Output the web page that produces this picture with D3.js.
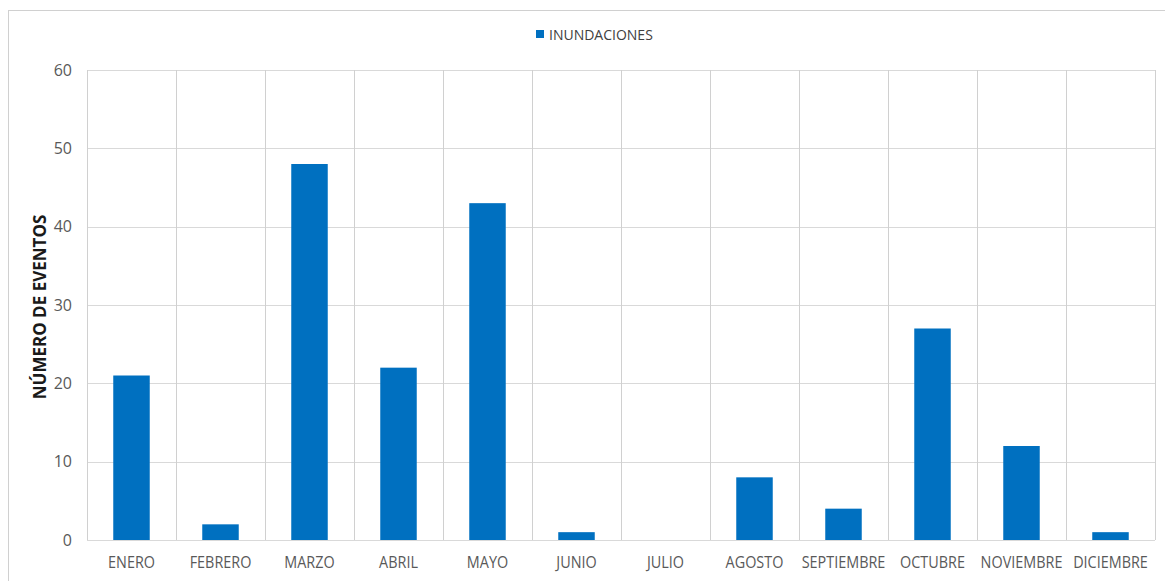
<!DOCTYPE html>
<html><head><meta charset="utf-8">
<script src="https://cdn.jsdelivr.net/npm/d3@7"></script>
<style>
html,body{margin:0;padding:0;background:#fff;}
svg{display:block;}
svg text{font-family:"Open Sans",sans-serif;}
</style></head><body>
<svg id="chart" width="1165" height="581"></svg>
<script>
const categories = ["ENERO","FEBRERO","MARZO","ABRIL","MAYO","JUNIO","JULIO","AGOSTO","SEPTIEMBRE","OCTUBRE","NOVIEMBRE","DICIEMBRE"];
const values = [21,2,48,22,43,1,0,8,4,27,12,1];
const yTicks = [0,10,20,30,40,50,60];
const seriesName = "INUNDACIONES";
const yTitle = "NÚMERO DE EVENTOS";

const svg = d3.select("#chart");
const m = {left:87, top:70};
const pw = 1155 - m.left;

svg.append("rect").attr("x",8.5).attr("y",10.5).attr("width",1165).attr("height",600)
  .attr("fill","#fff").attr("stroke","#d0d0d0").attr("stroke-width",1);

const x = d3.scaleBand().domain(categories).range([m.left, m.left+pw]).paddingInner(0.59).paddingOuter(0.295);
const xb = d3.scaleBand().domain(categories).range([m.left, m.left+pw]).padding(0);
const y = d3.scaleLinear().domain([0,60]).range([540,70]);

const g = svg.append("g");
g.selectAll("line.h").data(yTicks).join("line")
  .attr("x1",m.left).attr("x2",m.left+pw)
  .attr("y1",d=>Math.round(y(d))+0.5).attr("y2",d=>Math.round(y(d))+0.5)
  .attr("stroke","#d9d9d9").attr("stroke-width",1);
const bounds = categories.map(c=>xb(c)).concat([m.left+pw]);
g.selectAll("line.v").data(bounds).join("line")
  .attr("x1",d=>Math.round(d)+0.5).attr("x2",d=>Math.round(d)+0.5)
  .attr("y1",70).attr("y2",540)
  .attr("stroke","#d0d0d0").attr("stroke-width",1);

g.selectAll("rect.bar").data(values).join("rect")
  .attr("x",(d,i)=>x(categories[i])).attr("width",x.bandwidth())
  .attr("y",d=>y(d)).attr("height",d=>540-y(d))
  .attr("fill","#0070C0");

const ya = d3.axisLeft(y).tickValues(yTicks).tickSize(0).tickPadding(15);
svg.append("g").attr("transform",`translate(${m.left},0)`).call(ya)
  .attr("font-family",null).attr("font-size",null)
  .call(s=>s.select(".domain").remove())
  .selectAll("text").attr("fill","#595959").style("font-size","16px");

const xa = d3.axisBottom(xb).tickSize(0).tickPadding(17);
svg.append("g").attr("transform",`translate(0,540)`).call(xa)
  .attr("font-family",null).attr("font-size",null)
  .call(s=>s.select(".domain").remove())
  .selectAll("text").attr("fill","#595959").style("font-size","16px")
  .attr("transform","scale(0.9,1)");

svg.append("text").attr("transform","translate(46,307) rotate(-90)")
  .attr("text-anchor","middle").attr("fill","#1a1a1a").style("font-size","17px").style("font-weight","bold")
  .text(yTitle);

svg.append("rect").attr("x",536).attr("y",30).attr("width",8).attr("height",8).attr("fill","#0070C0");
svg.append("text").attr("x",549).attr("y",39.5).attr("fill","#404040").style("font-size","14px").text(seriesName);
</script>
</body></html>
